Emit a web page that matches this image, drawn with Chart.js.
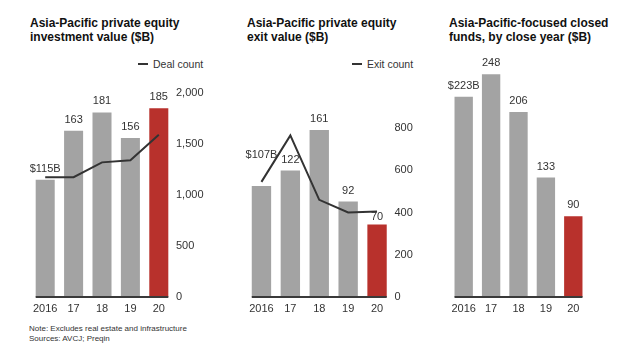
<!DOCTYPE html>
<html lang="en">
<head>
<meta charset="UTF-8">
<title>Asia-Pacific private equity</title>
<script src="https://cdn.jsdelivr.net/npm/chart.js"></script>
<style>
    body { margin: 0; background: #fff; font-family: "Liberation Sans", Arial, sans-serif; color: #222; }
    .wrap { position: relative; width: 640px; height: 353px; overflow: hidden; }
    .title { position: absolute; top: 16px; font-weight: bold; font-size: 12px; line-height: 14px; color: #111; }
    .legend { position: absolute; top: 58px; font-size: 10.5px; color: #333; }
    .legend span.ln { display: inline-block; width: 10px; height: 2px; background: #333; vertical-align: middle; margin-right: 5px; position: relative; top: -1px; }
    .note { position: absolute; left: 29px; top: 324px; font-size: 8px; line-height: 10px; color: #333; }
    canvas { position: absolute; }
</style>
</head>
<body>
<div class="wrap">
    <div class="title" style="left:30px">Asia-Pacific private equity<br>investment value ($B)</div>
    <div class="title" style="left:247px">Asia-Pacific private equity<br>exit value ($B)</div>
    <div class="title" style="left:449px">Asia-Pacific-focused closed<br>funds, by close year ($B)</div>

    <div class="legend" style="left:138px"><span class="ln"></span>Deal count</div>
    <div class="legend" style="left:352px"><span class="ln"></span>Exit count</div>

    <div id="c1box"><canvas id="c1"></canvas></div>
    <div id="c2box"><canvas id="c2"></canvas></div>
    <div id="c3box"><canvas id="c3"></canvas></div>

    <div class="note">Note: Excludes real estate and infrastructure<br>Sources: AVCJ; Preqin</div>
</div>

<script>
// Data
const years = ['2016', '17', '18', '19', '20'];

const investValue = [115, 163, 181, 156, 185];
const dealCount = [1175, 1175, 1320, 1340, 1590];
const dealTicks = [0, 500, 1000, 1500, 2000];

const exitValue = [107, 122, 161, 92, 70];
const exitCount = [545, 765, 460, 400, 405];
const exitTicks = [0, 200, 400, 600, 800];

const fundsValue = [223, 248, 206, 133, 90];

const GRAY = '#a3a3a3';
const RED = '#b8312c';
const barColors = years.map((y, i) => i === years.length - 1 ? RED : GRAY);

// value labels above bars + short baseline under the bars
const barExtras = {
    id: 'barExtras',
    afterDatasetsDraw(chart, args, opts) {
        const ctx = chart.ctx;
        const meta = chart.getDatasetMeta(0);
        const bars = meta.data;
        ctx.save();
        // baseline
        const first = bars[0], last = bars[bars.length - 1];
        ctx.strokeStyle = '#3a3a3a';
        ctx.lineWidth = 2;
        ctx.beginPath();
        ctx.moveTo(first.x - first.width / 2, chart.chartArea.bottom);
        ctx.lineTo(last.x + last.width / 2, chart.chartArea.bottom);
        ctx.stroke();
        // labels
        ctx.fillStyle = '#333';
        ctx.font = '11px "Liberation Sans", Arial, sans-serif';
        ctx.textAlign = 'center';
        ctx.textBaseline = 'middle';
        const vals = chart.data.datasets[0].data;
        bars.forEach((b, i) => {
            const txt = i === 0 ? '$' + vals[i] + 'B' : String(vals[i]);
            const lift = (opts.lift && opts.lift[i]) || 0;
            ctx.fillText(txt, b.x, b.y - 11 - lift);
        });
        ctx.restore();
    }
};

function place(id, left, top, w, h) {
    const box = document.getElementById(id + 'box');
    box.style.cssText = `position:absolute;left:${left}px;top:${top}px;width:${w}px;height:${h}px;`;
}

function makeChart(id, opt) {
    return new Chart(document.getElementById(id), {
        data: {
            labels: years,
            datasets: opt.datasets
        },
        options: {
            responsive: true,
            maintainAspectRatio: false,
            animation: false,
            layout: { padding: opt.padding },
            plugins: {
                legend: { display: false },
                tooltip: { enabled: false },
                barExtras: { lift: opt.lift || [] }
            },
            scales: Object.assign({
                x: {
                    grid: { display: false, drawTicks: false },
                    border: { display: false },
                    ticks: {
                        color: '#333',
                        font: { size: 11, family: '"Liberation Sans", Arial' },
                        padding: 5,
                        maxRotation: 0,
                        autoSkip: false
                    },
                    afterFit: s => { s.height = 23; }
                },
                y: {
                    display: false,
                    min: 0,
                    max: opt.barMax
                }
            }, opt.extraScales || {})
        },
        plugins: [barExtras]
    });
}

function countAxis(max, ticks, width) {
    return {
        y1: {
            position: 'right',
            min: 0,
            max: max,
            grid: { display: false, drawTicks: false },
            border: { display: false },
            afterBuildTicks: s => { s.ticks = ticks.map(v => ({ value: v })); },
            ticks: {
                color: '#333',
                padding: 3,
                font: { size: 11, family: '"Liberation Sans", Arial' },
                callback: v => v.toLocaleString('en-US')
            },
            afterFit: s => { s.width = width; }
        }
    };
}

function barSet(vals) {
    return {
        type: 'bar',
        data: vals,
        backgroundColor: barColors,
        categoryPercentage: 1,
        barPercentage: 0.67,
        yAxisID: 'y',
        order: 2
    };
}

function lineSet(vals) {
    return {
        type: 'line',
        data: vals,
        borderColor: '#333',
        borderWidth: 2,
        pointRadius: 0,
        tension: 0,
        yAxisID: 'y1',
        order: 1
    };
}

// Panel 1: investment value + deal count
place('c1', 0, 50, 215, 270);
makeChart('c1', {
    datasets: [barSet(investValue), lineSet(dealCount)],
    barMax: 200,
    padding: { left: 31, right: 0, top: 43, bottom: 0 },
    extraScales: countAxis(2000, dealTicks, 42)
});

// Panel 2: exit value + exit count
place('c2', 220, 50, 210, 270);
makeChart('c2', {
    datasets: [barSet(exitValue), lineSet(exitCount)],
    barMax: 163,
    padding: { left: 27, right: 0, top: 78, bottom: 0 },
    lift: [20, 0, 0, 0, -4],
    extraScales: countAxis(800, exitTicks, 38.5)
});

// Panel 3: closed funds
place('c3', 430, 50, 210, 270);
makeChart('c3', {
    datasets: [barSet(fundsValue)],
    barMax: 260,
    padding: { left: 20, right: 53, top: 13.5, bottom: 0 }
});
</script>
</body>
</html>
